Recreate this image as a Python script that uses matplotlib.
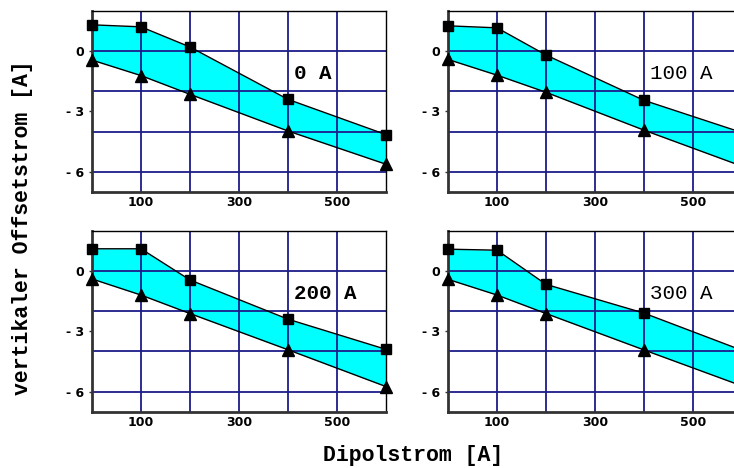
import matplotlib.pyplot as plt
from matplotlib.ticker import FixedLocator

# Dipolstrom [A] at the measured points
dipol = [0, 100, 200, 400, 600]

# panel labels (Quadrupolstrom)
panels = ['0 A', '100 A', '200 A', '300 A']

# upper limit of the offset current (squares)
upper = [
    [1.3, 1.2, 0.2, -2.4, -4.15],
    [1.25, 1.15, -0.2, -2.45, -4.05],
    [1.1, 1.1, -0.45, -2.4, -3.9],
    [1.08, 1.03, -0.67, -2.1, -3.95],
]

# lower limit of the offset current (triangles)
lower = [
    [-0.45, -1.22, -2.15, -3.97, -5.62],
    [-0.42, -1.2, -2.05, -3.93, -5.72],
    [-0.4, -1.2, -2.12, -3.92, -5.75],
    [-0.42, -1.2, -2.12, -3.93, -5.72],
]

yticks = [0, -3, -6]
ytick_labels = ['0', '- 3', '- 6']
xticks = [100, 300, 500]

fig = plt.figure(figsize=(7.34, 4.68), dpi=100)

# axes boxes in figure coordinates (right column runs past the edge)
boxes = [
    (0.1253, 0.5897, 0.4005, 0.3874),
    (0.6104, 0.5897, 0.4005, 0.3874),
    (0.1253, 0.1203, 0.4005, 0.3868),
    (0.6104, 0.1203, 0.4005, 0.3868),
]
weights = ['bold', 'normal', 'bold', 'normal']

grid_col = '#1c1c8a'

for i, box in enumerate(boxes):
    ax = fig.add_axes(box)
    ax.fill_between(dipol, lower[i], upper[i], color='#00ffff', lw=0, zorder=1)
    # grid lines drawn by hand so they sit above the fill
    for gx in [100, 200, 300, 400, 500]:
        ax.axvline(gx, color=grid_col, lw=1.3, zorder=2)
    for gy in [0, -2, -4, -6]:
        ax.axhline(gy, color=grid_col, lw=1.3, zorder=2)
    ax.plot(dipol, upper[i], color='black', lw=1.0, marker='s', ms=7,
            clip_on=False, zorder=4)
    ax.plot(dipol, lower[i], color='black', lw=1.0, marker='^', ms=8,
            clip_on=False, zorder=4)
    ax.text(412, -1.1, panels[i], family='Liberation Mono', weight=weights[i],
            fontsize=15, ha='left', va='center', zorder=5)

    ax.set_xlim(0, 600)
    ax.set_ylim(-7, 2)
    ax.xaxis.set_major_locator(FixedLocator(xticks))
    ax.set_yticks(yticks)
    ax.set_yticklabels(ytick_labels)
    ax.tick_params(axis='x', length=0, pad=3)
    ax.tick_params(axis='y', length=2, width=1, pad=4, color='#333333')
    for lab in ax.get_xticklabels() + ax.get_yticklabels():
        lab.set_fontweight('bold')
        lab.set_fontsize(9)
        lab.set_family('DejaVu Sans')
    for s in ['left', 'bottom']:
        ax.spines[s].set_linewidth(2)
        ax.spines[s].set_color('#333333')
    for s in ['top', 'right']:
        ax.spines[s].set_linewidth(1)
        ax.spines[s].set_color('black')

fig.text(0.031, 0.514, 'vertikaler Offsetstrom [A]', rotation=90,
         family='Liberation Mono', weight='bold', fontsize=15.5,
         ha='center', va='center')
fig.text(0.5627, 0.026, 'Dipolstrom [A]', family='Liberation Mono',
         weight='bold', fontsize=15.5, ha='center', va='center')

fig.savefig('out.png', dpi=100)
